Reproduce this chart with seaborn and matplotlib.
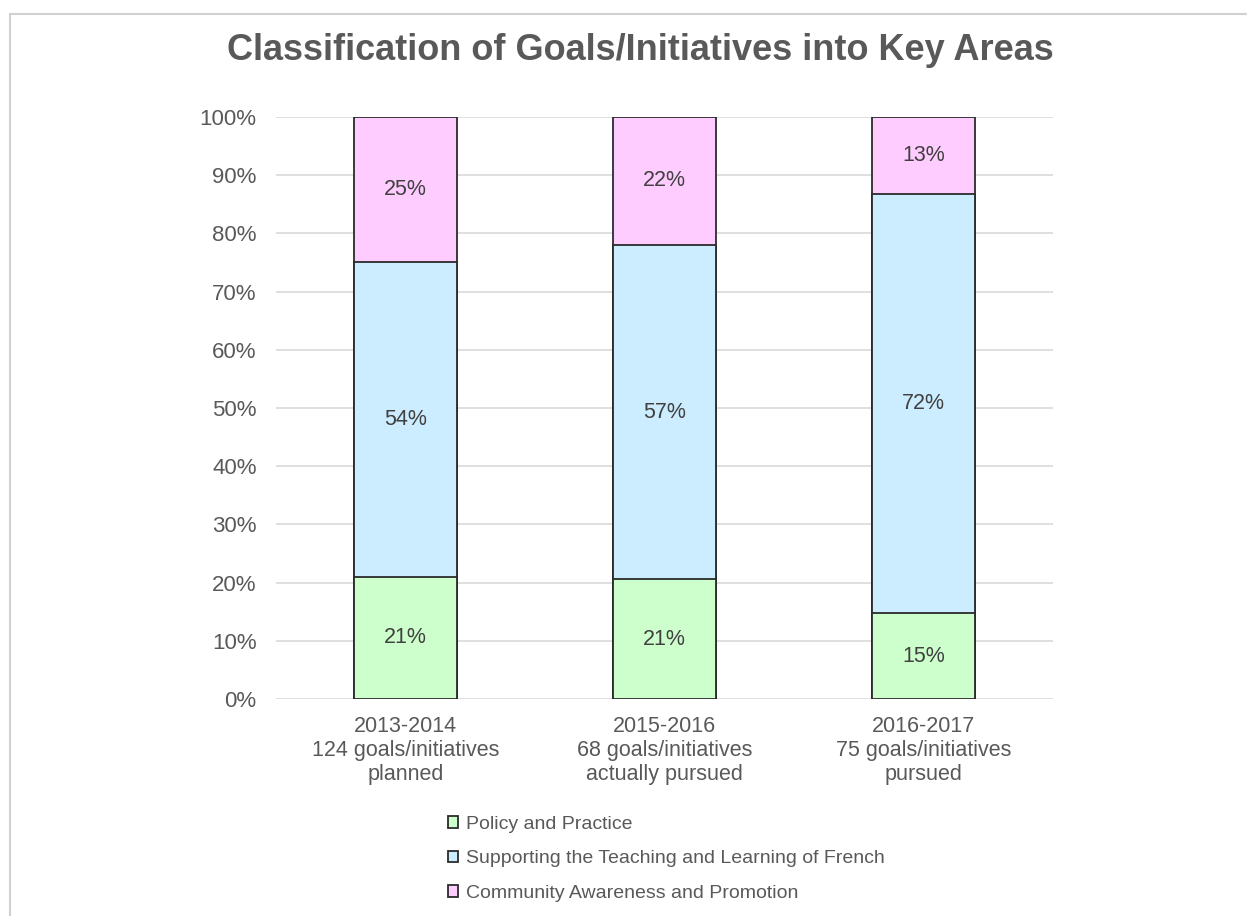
import matplotlib
matplotlib.use("Agg")
import matplotlib.pyplot as plt
from matplotlib.lines import Line2D
from matplotlib.patches import Patch
import numpy as np
import pandas as pd
import seaborn as sns

# Share of goals/initiatives per key area (percent of each year's total)
years = ["2013-2014\n124 goals/initiatives\nplanned",
         "2015-2016\n68 goals/initiatives\nactually pursued",
         "2016-2017\n75 goals/initiatives\npursued"]
policy = [21.0, 20.6, 14.7]
teaching = [54.0, 57.4, 72.0]
community = [25.0, 22.0, 13.3]
areas = ["Policy and Practice",
         "Supporting the Teaching and Learning of French",
         "Community Awareness and Promotion"]
colors = ["#CCFFCC", "#CCECFF", "#FFCCFF"]
yticks = [0, 10, 20, 30, 40, 50, 60, 70, 80, 90, 100]

sns.set_theme(style="white")
plt.rcParams["font.family"] = ["Liberation Sans", "DejaVu Sans"]

series = [policy, teaching, community]
tops = np.cumsum(np.array(series), axis=0)
bottoms = tops - np.array(series)

df = pd.DataFrame({"year": years})
for name, top in zip(areas, tops):
    df[name] = top

fig = plt.figure(figsize=(12.48, 9.16), dpi=100)
ax = fig.add_axes([0.2212, 0.2369, 0.6226, 0.6354])

# stacked bars: draw cumulative totals from the top layer down
for name, col in reversed(list(zip(areas, colors))):
    sns.barplot(data=df, x="year", y=name, color=col, width=0.40,
                edgecolor="#2b2b2b", linewidth=1.3, saturation=1,
                ax=ax, zorder=3)

for i in range(len(years)):
    for vals, bot in zip(series, bottoms):
        ax.text(i, bot[i] + vals[i] / 2, f"{vals[i]:.0f}%", ha="center",
                va="center", fontsize=15.5, color="#404040", zorder=4)

ax.set_ylim(0, 100)
ax.set_xlim(-0.5, 2.5)
ax.set_yticks(yticks)
ax.set_yticklabels([f"{t}%" for t in yticks])
ax.set_xlabel("")
ax.set_ylabel("")
ax.yaxis.grid(True, color="#D9D9D9", linewidth=1.2, zorder=0)
ax.set_axisbelow(True)
for s in ax.spines.values():
    s.set_visible(False)
ax.tick_params(axis="y", length=0, pad=14, labelsize=16, labelcolor="#595959")
ax.tick_params(axis="x", length=0, pad=12, labelsize=15.5, labelcolor="#595959")
for lbl in ax.get_xticklabels():
    lbl.set_linespacing(1.2)

fig.text(0.513, 1 - 50 / 916, "Classification of Goals/Initiatives into Key Areas",
         ha="center", va="center", fontsize=26, fontweight="bold", color="#595959")

handles = [Patch(facecolor=c, edgecolor="#2b2b2b", linewidth=1.3) for c in colors]
fig.legend(handles, areas, loc="upper left", bbox_to_anchor=(440 / 1248, 1 - 808 / 916),
           frameon=False, fontsize=14, labelcolor="#595959", handlelength=0.55,
           handleheight=0.55, handletextpad=0.4, labelspacing=0.91, borderaxespad=0)

# light frame around the chart area
fig.add_artist(Line2D([9.5 / 1248, 9.5 / 1248], [0, 1 - 13.5 / 916],
                      transform=fig.transFigure, color="#D0D0D0", linewidth=1.5))
fig.add_artist(Line2D([9.5 / 1248, 1246 / 1248], [1 - 13.5 / 916, 1 - 13.5 / 916],
                      transform=fig.transFigure, color="#D0D0D0", linewidth=1.5))

fig.savefig("out.png", dpi=100)
